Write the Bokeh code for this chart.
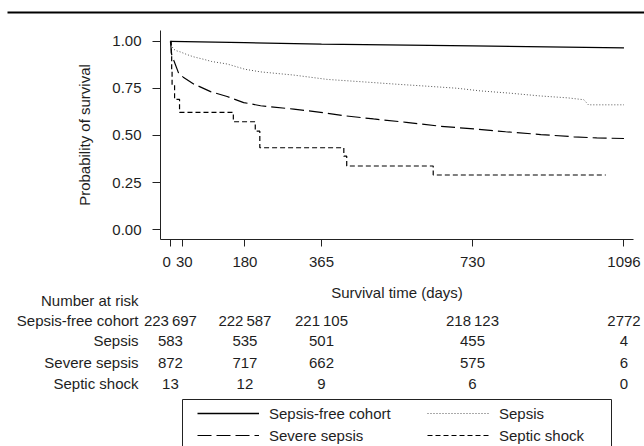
from bokeh.plotting import figure
from bokeh.models import (Range1d, FixedTicker, PrintfTickFormatter,
                          Legend, LegendItem)
from bokeh.core.properties import value
from bokeh.embed import file_html
from bokeh.resources import INLINE

# ---------------- data ----------------
free_days = [0, 180, 365, 730, 1096]
free_surv = [1.0, 0.993, 0.985, 0.976, 0.966]

sepsis_days = [0, 3, 8, 15, 24, 40, 56, 80, 100, 137, 180, 218, 298, 379, 459,
               550, 620, 693, 749, 820, 894, 960, 999, 1010, 1096]
sepsis_surv = [1.0, 0.975, 0.958, 0.95, 0.944, 0.93, 0.918, 0.905, 0.893, 0.88,
               0.852, 0.838, 0.821, 0.798, 0.786, 0.772, 0.762, 0.751, 0.737,
               0.725, 0.71, 0.70, 0.69, 0.663, 0.663]

severe_days = [0, 3, 8, 20, 31, 56, 97, 137, 177, 218, 298, 363, 420, 491, 570,
               653, 733, 810, 895, 975, 1030, 1096]
severe_surv = [1.0, 0.93, 0.90, 0.83, 0.81, 0.774, 0.733, 0.707, 0.675, 0.658,
               0.64, 0.623, 0.605, 0.588, 0.57, 0.549, 0.535, 0.52, 0.505, 0.493,
               0.487, 0.484]

shock_days = [0, 2, 3, 4, 10, 22, 152, 205, 216, 419, 426, 635, 1052]
shock_surv = [1.0, 0.923, 0.846, 0.769, 0.692, 0.623, 0.573, 0.523, 0.435, 0.39,
              0.338, 0.29, 0.29]

x_ticks = [0, 30, 180, 365, 730, 1096]
y_ticks = [0.0, 0.25, 0.5, 0.75, 1.0]

risk_days = [0, 180, 365, 730, 1096]
risk_free = ["223\u2009697", "222\u2009587", "221\u2009105", "218\u2009123", "2772"]
risk_sepsis = ["583", "535", "501", "455", "4"]
risk_severe = ["872", "717", "662", "575", "6"]
risk_shock = ["13", "12", "9", "6", "0"]
row_names = ["Sepsis-free cohort", "Sepsis", "Severe sepsis", "Septic shock"]
x_title = "Survival time (days)"
y_title = "Probability of survival"
risk_title = "Number at risk"

# ---------------- layout / style ----------------
FONT = "Liberation Sans"
FS = "15px"
TXT = "#1e1e1e"
W = 644
STRIP_H, MAIN_H, BOT_H = 14, 258, 174
MAIN_L, MAIN_R, MAIN_T, MAIN_B = 160, 633, 30, 241   # frame edges (page px)
X0, X1 = -24, 1119
Y0, Y1 = -0.0526, 1.0579
BOT_TOP = STRIP_H + MAIN_H                           # page y where bottom panel starts

STY = dict(
    free=dict(line_color="black", line_width=1.3),
    sepsis=dict(line_color="#555555", line_width=1, line_dash="1 2"),
    severe=dict(line_color="black", line_width=1.2, line_dash="14 5"),
    shock=dict(line_color="black", line_width=1.2, line_dash="5 3"),
)

# ---- top rule ----
strip = figure(width=W, height=STRIP_H, x_range=Range1d(0, 1), y_range=Range1d(0, 1),
               output_backend="svg", toolbar_location=None,
               x_axis_location=None, y_axis_location=None,
               min_border_left=7, min_border_right=0, min_border_top=11,
               min_border_bottom=1)
strip.background_fill_color = "black"
strip.border_fill_color = "white"
strip.outline_line_color = None
strip.grid.visible = False

# ---- main plot ----
p = figure(width=W, height=MAIN_H, x_range=Range1d(X0, X1), y_range=Range1d(Y0, Y1),
           output_backend="svg", toolbar_location=None,
           min_border_left=MAIN_L, min_border_right=W - MAIN_R,
           min_border_top=MAIN_T - STRIP_H, min_border_bottom=STRIP_H + MAIN_H - MAIN_B)
p.outline_line_color = None
p.xgrid.visible = False
p.ygrid.visible = False
p.border_fill_color = "white"

p.line(free_days, free_surv, **STY["free"])
p.line(sepsis_days, sepsis_surv, **STY["sepsis"])
p.line(severe_days, severe_surv, **STY["severe"])
p.step(shock_days, shock_surv, mode="after", **STY["shock"])

for ax in (p.xaxis[0], p.yaxis[0]):
    ax.axis_line_color = "#222222"
    ax.major_tick_line_color = "#222222"
    ax.major_tick_in = 0
    ax.minor_tick_line_color = None
    ax.major_label_text_font = FONT
    ax.major_label_text_font_size = FS
    ax.major_label_text_color = TXT
    ax.axis_label_text_font = FONT
    ax.axis_label_text_font_size = FS
    ax.axis_label_text_font_style = "normal"
    ax.axis_label_text_color = TXT

p.xaxis.ticker = FixedTicker(ticks=x_ticks)
p.xaxis.major_label_overrides = {0: "0\u2002", 30: "\u200930"}   # keep "0" and "30" apart
p.xaxis.major_tick_out = 7
p.xaxis.major_label_standoff = 6

p.yaxis.ticker = FixedTicker(ticks=y_ticks)
p.yaxis.formatter = PrintfTickFormatter(format="%.2f")
p.yaxis.major_tick_out = 8
p.yaxis.major_label_standoff = 11
p.yaxis.axis_label = y_title
p.yaxis.axis_label_standoff = 16

# ---- bottom panel: axis title, number-at-risk table, legend ----
scale = (MAIN_R - MAIN_L) / (X1 - X0)


def px2day(px):
    return X0 + (px - MAIN_L) / scale


b = figure(width=W, height=BOT_H, x_range=Range1d(px2day(0), px2day(W)),
           y_range=Range1d(BOT_TOP + BOT_H, BOT_TOP),
           output_backend="svg", toolbar_location=None,
           x_axis_location=None, y_axis_location=None,
           min_border=0, min_border_left=0, min_border_right=0,
           min_border_top=0, min_border_bottom=0)
b.outline_line_color = None
b.grid.visible = False
b.border_fill_color = "white"

TXT_KW = dict(text_font=value(FONT), text_font_size=value(FS), text_color=TXT,
              text_baseline="middle")

row_y = [320, 340, 362, 383]
b.text(x=[(X0 + X1) / 2], y=[292], text=[x_title], text_align="center", **TXT_KW)
b.text(x=[px2day(138)] * 5, y=[300] + row_y, text=[risk_title] + row_names,
       text_align="right", **TXT_KW)
xs, ys, ts = [], [], []
for ry, vals in zip(row_y, [risk_free, risk_sepsis, risk_severe, risk_shock]):
    xs += risk_days
    ys += [ry] * len(risk_days)
    ts += vals
b.text(x=xs, y=ys, text=ts, text_align="center", **TXT_KW)

# legend frame
b.quad(left=[px2day(182)], right=[px2day(611)], top=[399], bottom=[460],
       fill_color=None, line_color="#222222", line_width=1)

# legend renderers: the same curves, which fall outside this panel's y range
lr = dict(
    free=b.line(free_days, free_surv, **STY["free"]),
    sepsis=b.line(sepsis_days, sepsis_surv, **STY["sepsis"]),
    severe=b.line(severe_days, severe_surv, **STY["severe"]),
    shock=b.step(shock_days, shock_surv, mode="after", **STY["shock"]),
)


def make_legend(items, left_px):
    return Legend(items=items, location=(left_px, BOT_TOP + BOT_H - 403 - 42),
                  orientation="vertical", padding=0, spacing=2, margin=0,
                  glyph_width=62, glyph_height=20, label_height=20,
                  label_standoff=10, border_line_color=None,
                  background_fill_alpha=0, label_text_font=FONT,
                  label_text_font_size=FS, label_text_color=TXT)


b.add_layout(make_legend([LegendItem(label="Sepsis-free cohort", renderers=[lr["free"]]),
                          LegendItem(label="Severe sepsis", renderers=[lr["severe"]])], 197))
b.add_layout(make_legend([LegendItem(label="Sepsis", renderers=[lr["sepsis"]]),
                          LegendItem(label="Septic shock", renderers=[lr["shock"]])], 427))

# three independent roots stacked by the page (no frame alignment between them)
open("out.html", "w").write(file_html([strip, p, b], INLINE))
